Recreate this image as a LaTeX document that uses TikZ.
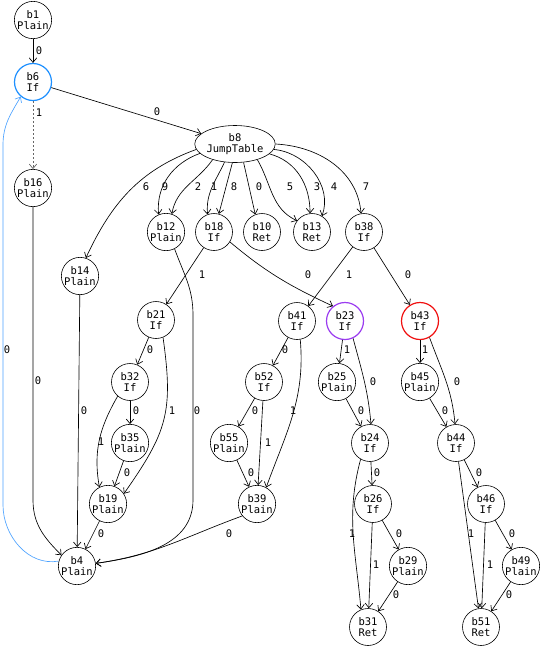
\documentclass[tikz,border=0pt]{standalone}
\usepackage{fontspec}
\setmonofont{DejaVu Sans Mono}
\definecolor{ifblue}{HTML}{1E90FF}
\definecolor{loopblue}{HTML}{4DA3FF}
\definecolor{ifviolet}{HTML}{9B3CF0}
\definecolor{ifred}{HTML}{F01010}
\usetikzlibrary{shapes.geometric,arrows.meta}

\begin{document}
\begin{tikzpicture}[x=1pt, y=1pt,
  block/.style={circle, draw=black, line width=0.6pt, minimum size=37pt, inner sep=0pt, align=center, font=\ttfamily\fontsize{10.5}{11.7}\selectfont},
  jtable/.style={block, ellipse, minimum width=70pt, minimum height=37pt},
  ring/.style={line width=1.2pt},
  flow/.style={draw, line width=0.65pt, -{Straight Barb[length=4.5pt,width=7.5pt]}},
  lbl/.style={inner sep=0pt, font=\ttfamily\fontsize{10.5}{11.7}\selectfont}]
\path[fill=white, use as bounding box] (0,0) rectangle (543,-649);

\node[block] (b1) at (33,-20) {b1\\Plain};
\node[block, draw=ifblue, ring] (b6) at (33,-82) {b6\\If};
\node[block] (b16) at (33,-188) {b16\\Plain};
\node[jtable] (b8) at (235,-144) {b8\\JumpTable};
\node[block] (b12) at (166,-232) {b12\\Plain};
\node[block] (b18) at (214,-232) {b18\\If};
\node[block] (b10) at (262,-232) {b10\\Ret};
\node[block] (b13) at (312,-232) {b13\\Ret};
\node[block] (b38) at (364,-232) {b38\\If};
\node[block] (b14) at (80,-276) {b14\\Plain};
\node[block] (b21) at (156,-320) {b21\\If};
\node[block] (b41) at (297,-321) {b41\\If};
\node[block, draw=ifviolet, ring] (b23) at (345,-321) {b23\\If};
\node[block, draw=ifred, ring] (b43) at (420,-321) {b43\\If};
\node[block] (b32) at (130,-382) {b32\\If};
\node[block] (b52) at (264,-382) {b52\\If};
\node[block] (b25) at (337,-382) {b25\\Plain};
\node[block] (b45) at (420,-382) {b45\\Plain};
\node[block] (b35) at (130,-443) {b35\\Plain};
\node[block] (b55) at (229,-443) {b55\\Plain};
\node[block] (b24) at (370,-443) {b24\\If};
\node[block] (b44) at (456,-443) {b44\\If};
\node[block] (b19) at (108,-504) {b19\\Plain};
\node[block] (b39) at (257,-504) {b39\\Plain};
\node[block] (b26) at (373,-504) {b26\\If};
\node[block] (b46) at (486,-504) {b46\\If};
\node[block] (b4) at (77,-566) {b4\\Plain};
\node[block] (b29) at (408,-566) {b29\\Plain};
\node[block] (b49) at (521,-566) {b49\\Plain};
\node[block] (b31) at (368,-627) {b31\\Ret};
\node[block] (b51) at (481,-627) {b51\\Ret};

\draw[flow] (b1) -- (b6);
\node[lbl] (b1b6) at (39,-51) {0};
\draw[flow, draw=black!60, dash pattern=on 2pt off 2pt] (b6) -- (b16);
\node[lbl] (b6b16) at (39,-113) {1};
\draw[flow] (b6) -- (b8);
\node[lbl] (b6b8) at (157,-112) {0};
\draw[flow] (b16) -- (33,-500) to[out=-90,in=135] (b4.145);
\node[lbl] (b16b4) at (38,-381) {0};
\draw[flow, draw=loopblue] (b4.165) to[out=190,in=-90] (3,-505) -- (3,-145) to[out=90,in=240] (b6.230);
\node[lbl] (b4b6) at (7,-350) {0};

\draw[flow] (b8.188) to[out=200,in=65] (b14.72);
\node[lbl] (b8b14) at (146,-187) {6};
\draw[flow] (b8.195) to[out=200,in=95] (b12.113);
\node[lbl] (b8b12a) at (165,-187) {9};
\draw[flow] (b8.215) to[out=235,in=80] (b12.72);
\node[lbl] (b8b12b) at (198,-187) {2};
\draw[flow] (b8.240) to[out=245,in=95] (b18.110);
\node[lbl] (b8b18a) at (214,-187) {1};
\draw[flow] (b8.262) -- (b18.75);
\node[lbl] (b8b18b) at (234,-187) {8};
\draw[flow] (b8.295) -- (b10.111);
\node[lbl] (b8b10) at (259,-187) {0};
\draw[flow] (b8.-35) to[out=-60,in=155] (b13.143);
\node[lbl] (b8b13a) at (290,-187) {5};
\draw[flow] (b8.-16) to[out=-15,in=90] (b13.96);
\node[lbl] (b8b13b) at (317,-187) {3};
\draw[flow] (b8.-8) to[out=-5,in=70] (b13.58);
\node[lbl] (b8b13c) at (334,-187) {4};
\draw[flow] (b8.0) to[out=-3,in=95] (b38.99);
\node[lbl] (b8b38) at (366,-187) {7};

\draw[flow] (b12.-63) to[out=-70,in=90] (193,-315) -- (193,-500) to[out=-90,in=8] (b4.8);
\node[lbl] (b12b4) at (197,-411) {0};
\draw[flow] (b14) -- (b4);
\node[lbl] (b14b4) at (84,-411) {0};
\draw[flow] (b18) -- (b21);
\node[lbl] (b18b21) at (202,-275) {1};
\draw[flow] (b18.-32) to[out=-40,in=155] (b23.129);
\node[lbl] (b18b23) at (308,-275) {0};
\draw[flow] (b38) -- (b41);
\node[lbl] (b38b41) at (349,-275) {1};
\draw[flow] (b38) -- (b43);
\node[lbl] (b38b43) at (408,-275) {0};

\draw[flow] (b21) -- (b32);
\node[lbl] (b21b32) at (150,-350) {0};
\draw[flow] (b21.-68) to[out=-82,in=55,looseness=1.2] (b19.33);
\node[lbl] (b21b19) at (172,-411) {1};
\draw[flow] (b32) -- (b35);
\node[lbl] (b32b35) at (136,-411) {0};
\draw[flow] (b32.229) to[out=240,in=100] (b19.117);
\node[lbl] (b32b19) at (101,-442) {1};
\draw[flow] (b35) -- (b19);
\node[lbl] (b35b19) at (127,-473) {0};
\draw[flow] (b19) -- (b4);
\node[lbl] (b19b4) at (101,-534) {0};
\draw[flow] (b39.219) to[out=200,in=8] (b4.8);
\node[lbl] (b39b4) at (229,-534) {0};

\draw[flow] (b41) -- (b52);
\node[lbl] (b41b52) at (285,-350) {0};
\draw[flow] (b41.-80) to[out=-85,in=70] (b39.61);
\node[lbl] (b41b39) at (293,-411) {1};
\draw[flow] (b52) -- (b55);
\node[lbl] (b52b55) at (255,-411) {0};
\draw[flow] (b52) -- (b39);
\node[lbl] (b52b39) at (268,-443) {1};
\draw[flow] (b55) -- (b39);
\node[lbl] (b55b39) at (251,-473) {0};

\draw[flow] (b23) -- (b25);
\node[lbl] (b23b25) at (347,-350) {1};
\draw[flow] (b23.-65) to[out=-75,in=95] (b24.87);
\node[lbl] (b23b24) at (373,-382) {0};
\draw[flow] (b25) -- (b24);
\node[lbl] (b25b24) at (361,-411) {0};
\draw[flow] (b43) -- (b45);
\node[lbl] (b43b45) at (425,-350) {1};
\draw[flow] (b43.-60) to[out=-70,in=95] (b44.93);
\node[lbl] (b43b44) at (457,-382) {0};
\draw[flow] (b45) -- (b44);
\node[lbl] (b45b44) at (445,-411) {0};

\draw[flow] (b24) -- (b26);
\node[lbl] (b24b26) at (377,-473) {0};
\draw[flow] (b24.240) to[out=255,in=95] (b31.112);
\node[lbl] (b24b31) at (352,-534) {1};
\draw[flow] (b26) -- (b31);
\node[lbl] (b26b31) at (376,-565) {1};
\draw[flow] (b26) -- (b29);
\node[lbl] (b26b29) at (399,-534) {0};
\draw[flow] (b29) -- (b31);
\node[lbl] (b29b31) at (396,-595) {0};
\draw[flow] (b44) -- (b46);
\node[lbl] (b44b46) at (479,-473) {0};
\draw[flow] (b44) -- (b51);
\node[lbl] (b44b51) at (471,-534) {1};
\draw[flow] (b46) -- (b51);
\node[lbl] (b46b51) at (490,-565) {1};
\draw[flow] (b46) -- (b49);
\node[lbl] (b46b49) at (512,-534) {0};
\draw[flow] (b49) -- (b51);
\node[lbl] (b49b51) at (509,-595) {0};
\end{tikzpicture}
\end{document}
